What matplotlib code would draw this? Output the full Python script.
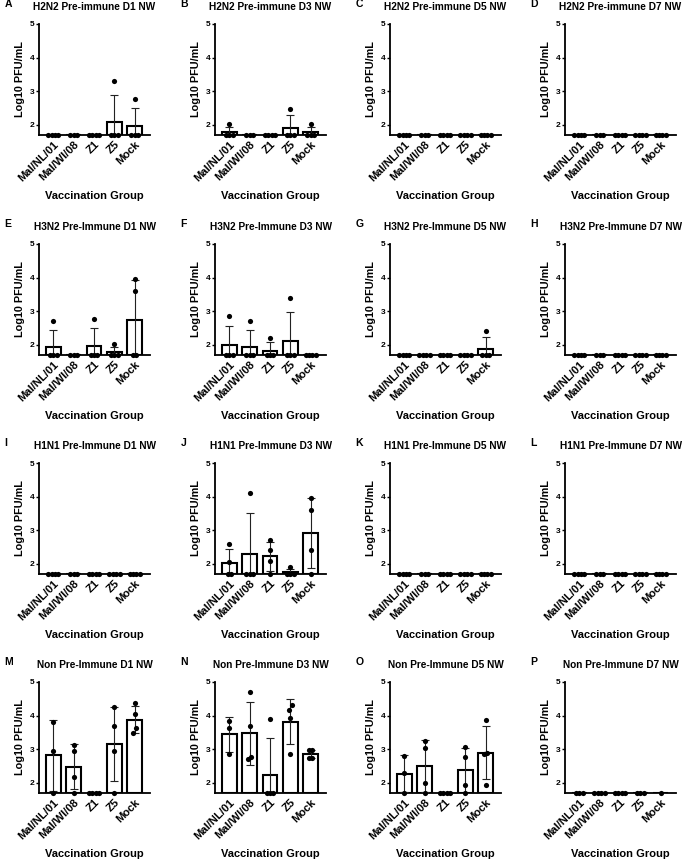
import numpy as np
import matplotlib
matplotlib.use("Agg")
import matplotlib.pyplot as plt

plt.rcParams['font.family'] = ['Liberation Sans', 'DejaVu Sans']
plt.rcParams['font.weight'] = 'bold'

groups = ['Mal/NL/01', 'Mal/WI/08', 'Z1', 'Z5', 'Mock']
LOD = 1.7

letters = list('ABCDEFGHIJKLMNOP')
titles = [
    'H2N2 Pre-immune D1 NW', 'H2N2 Pre-immune D3 NW', 'H2N2 Pre-immune D5 NW', 'H2N2 Pre-immune D7 NW',
    'H3N2 Pre-Immune D1 NW', 'H3N2 Pre-Immune D3 NW', 'H3N2 Pre-Immune D5 NW', 'H3N2 Pre-Immune D7 NW',
    'H1N1 Pre-Immune D1 NW', 'H1N1 Pre-Immune D3 NW', 'H1N1 Pre-Immune D5 NW', 'H1N1 Pre-Immune D7 NW',
    'Non Pre-Immune D1 NW', 'Non Pre-Immune D3 NW', 'Non Pre-Immune D5 NW', 'Non Pre-Immune D7 NW',
]

L = LOD
blank = [[L]*4, [L]*3, [L]*4, [L]*4, [L]*4]

# log10 PFU/mL per animal, one list per vaccination group
h2n2_d1 = [[L]*4, [L]*3, [L]*4, [3.3, L, L, L], [2.78, L, L, L]]
h2n2_d3 = [[2.03, L, L, L], [L]*3, [L]*4, [2.48, L, L, L], [2.03, L, L, L]]
h2n2_d5 = blank
h2n2_d7 = blank
h3n2_d1 = [[2.7, L, L, L], [L]*3, [2.78, L, L, L], [2.03, L, L, L], [3.95, 3.6, L, L]]
h3n2_d3 = [[2.85, L, L, L], [2.7, L, L, L], [2.22, L, L, L], [3.4, L, L, L], [L]*4]
h3n2_d5 = [[L]*4, [L]*4, [L]*4, [L]*4, [2.4, L, L, L]]
h3n2_d7 = blank
h1n1_d1 = blank
h1n1_d3 = [[2.6, 2.05, L, L], [4.12, L, L, L], [2.7, 2.4, 2.1, L], [1.9, L, L, L], [3.95, 3.6, 2.4, L]]
h1n1_d5 = blank
h1n1_d7 = blank
non_d1 = [[3.8, 2.95, L], [3.12, 2.95, 2.17, L], [L]*4, [4.27, 3.7, 2.95, L], [4.38, 4.05, 3.62, 3.48]]
non_d3 = [[3.85, 3.62, 2.85], [4.7, 3.7, 2.78, 2.7], [3.9, L, L, L], [4.33, 4.18, 3.92, 2.85], [2.98, 2.97, 2.75, 2.75]]
non_d5 = [[2.8, 2.3, L], [3.25, 3.05, 2.0, L], [L]*4, [3.07, 2.78, 1.93, L], [3.88, 2.9, 2.85, 1.95]]
non_d7 = [[L]*3, [L]*4, [L]*4, [L]*3, [L]]

panels = [h2n2_d1, h2n2_d3, h2n2_d5, h2n2_d7,
          h3n2_d1, h3n2_d3, h3n2_d5, h3n2_d7,
          h1n1_d1, h1n1_d3, h1n1_d5, h1n1_d7,
          non_d1, non_d3, non_d5, non_d7]


def spread(vals, center):
    # simple scatter-dot-plot spreading: nearby values fan out sideways
    vals = np.asarray(vals, float)
    order = np.argsort(vals)
    xs = np.zeros(len(vals))
    clusters, cur = [], [order[0]]
    for i in order[1:]:
        if vals[i] - vals[cur[-1]] < 0.16:
            cur.append(i)
        else:
            clusters.append(cur)
            cur = [i]
    clusters.append(cur)
    for c in clusters:
        n = len(c)
        offs = (np.arange(n) - (n - 1) / 2) * 0.17
        for j, idx in enumerate(c):
            xs[idx] = center + offs[j]
    return xs


W, H = 696, 860
fig = plt.figure(figsize=(W / 100, H / 100), dpi=100)

col_left = [39, 215, 390, 565]
row_top = [24, 244, 463, 682]
ax_w, ax_h = 111, 111

for k, data in enumerate(panels):
    r, c = divmod(k, 4)
    left = col_left[c]
    top = row_top[r]
    ax = fig.add_axes([left / W, 1 - (top + ax_h) / H, ax_w / W, ax_h / H])
    x = np.arange(len(groups))
    means = np.array([np.mean(v) for v in data])
    sds = np.array([np.std(v, ddof=1) if len(v) > 1 else 0 for v in data])
    ax.bar(x, means - LOD, bottom=LOD, width=0.72, color='white',
           edgecolor='black', linewidth=1.5, zorder=2)
    ax.errorbar(x, means, yerr=sds, fmt='none', ecolor='#222222',
                elinewidth=0.8, capsize=3.2, capthick=0.8, zorder=3)
    for i, v in enumerate(data):
        ax.scatter(spread(v, i), v, s=14, color='black', zorder=4,
                   clip_on=False, linewidths=0)
    ax.set_xlim(-0.7, 4.75)
    ax.set_ylim(LOD, 5)
    ax.set_yticks([2, 3, 4, 5])
    ax.set_xticks(x)
    ax.set_xticklabels(groups, rotation=45, ha='right', rotation_mode='anchor',
                       fontsize=8, fontweight='bold')
    ax.tick_params(axis='x', length=0, pad=3)
    ax.tick_params(axis='y', labelsize=6, length=2.5, width=1, pad=1)
    for lab in ax.get_yticklabels():
        lab.set_fontweight('bold')
    for s in ['top', 'right']:
        ax.spines[s].set_visible(False)
    for s in ['left', 'bottom']:
        ax.spines[s].set_linewidth(1.3)
    ax.set_ylabel('Log10 PFU/mL', fontsize=7.8, fontweight='bold', labelpad=3)
    ax.set_xlabel('Vaccination Group', fontsize=8, fontweight='bold', labelpad=6)
    ax.set_title(titles[k], fontsize=7.3, fontweight='bold', pad=10)
    ax.text(-0.31, 1.0 + 11 / 72 * 100 / ax_h, letters[k], transform=ax.transAxes,
            fontsize=7.5, fontweight='bold', va='bottom', ha='left')

fig.savefig('out.png', dpi=100, facecolor='white')
